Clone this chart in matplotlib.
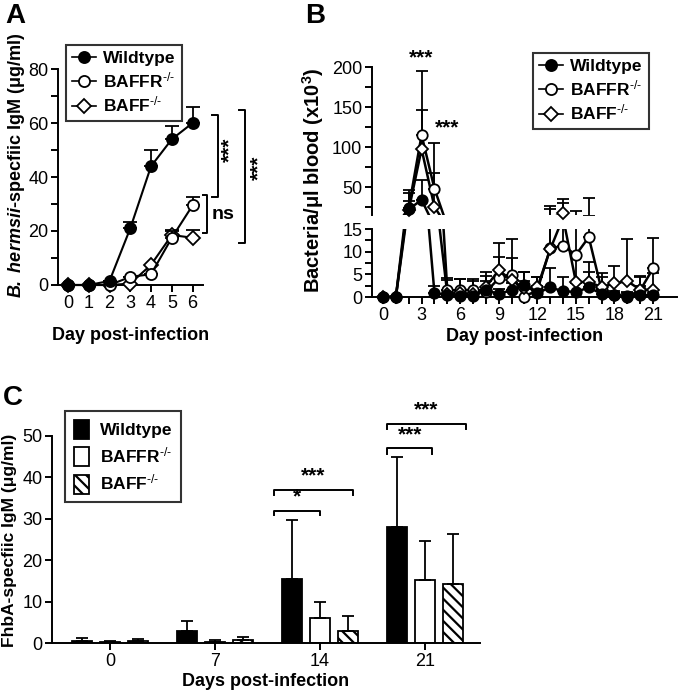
import numpy as np
import matplotlib
matplotlib.use("Agg")
import matplotlib.pyplot as plt
from matplotlib.lines import Line2D
from matplotlib.patches import Patch

plt.rcParams["font.family"] = ["Liberation Sans", "DejaVu Sans"]
plt.rcParams["mathtext.fontset"] = "custom"
plt.rcParams["mathtext.rm"] = "Liberation Sans"
plt.rcParams["mathtext.it"] = "Liberation Sans:italic"
plt.rcParams["mathtext.bf"] = "Liberation Sans:bold"
plt.rcParams["mathtext.bfit"] = "Liberation Sans:italic:bold"
plt.rcParams["hatch.linewidth"] = 1.6
plt.rcParams["axes.linewidth"] = 1.4

# ---- panel A: B. hermsii-specific IgM ----
days_a = [0, 1, 2, 3, 4, 5, 6]
wt_a = [0, 0, 1.5, 21, 44, 54, 60]
wt_a_err = [0, 0, 0, 2.5, 6, 5, 6]
baffr_a = [0, 0, 0, 3, 4, 17.5, 29.5]
baffr_a_err = [0, 0, 0, 0, 0, 2.5, 3]
baff_a = [0, 0, 0, 0.5, 7.5, 18.5, 17.5]
baff_a_err = [0, 0, 0, 0, 0, 2, 3]

# ---- panel B: bacteremia (x10^3 / ul) ----
days_b = list(range(22))
wt_b = [0, 0, 22, 34, 0.9, 0.4, 0.3, 0.3, 1.5, 0.7, 1.5, 2.6, 0.9, 2.1, 1.3, 1.1,
        2.1, 0.7, 0.4, 0.3, 0.4, 0.4]
wt_b_err = [0, 0, 10, 25, 1.5, 0, 0, 0, 2, 1, 1.5, 3, 1.5, 4.2, 3.1, 2, 3.5, 1,
            0.5, 0.5, 2, 0.5]
baffr_b = [0, 0, 23.8, 115, 48, 1.5, 1.5, 1.6, 1.1, 4.1, 4.8, 0.1, 1.5, 10.7,
           11.3, 9.3, 13.2, 1.5, 0.4, 0.1, 1.5, 6.3]
baffr_b_err = [0, 0, 23, 80, 57, 2.6, 2.4, 2.3, 3.5, 4.8, 7.9, 3.5, 2.9, 15, 19,
               11, 23, 3, 1, 1, 3, 6.7]
baff_b = [0, 0, 20.8, 97.5, 25, 0.7, 0.9, 0.6, 2.2, 5.9, 3.7, 1.9, 2.1, 10.5,
          17.5, 3.3, 3.3, 2.2, 3.0, 3.5, 1.6, 1.6]
baff_b_err = [0, 0, 21.7, 48.5, 42, 3, 3, 3, 3.4, 6, 4.8, 3.7, 2.3, 11.5, 18, 6,
              4.5, 3, 3.9, 9.2, 3, 3.6]

# ---- panel C: FhbA-specific IgM ----
groups_c = ["0", "7", "14", "21"]
wt_c = [0.5, 3.0, 15.4, 28.0]
wt_c_err = [0.6, 2.2, 14.4, 17.0]
baffr_c = [0.2, 0.3, 6.0, 15.2]
baffr_c_err = [0.2, 0.4, 4.0, 9.4]
baff_c = [0.5, 0.8, 3.0, 14.2]
baff_c_err = [0.4, 0.7, 3.6, 12.2]

labels = ["Wildtype", r"BAFFR$^{\text{-/-}}$", r"BAFF$^{\text{-/-}}$"]
styles = [dict(marker="o", mfc="black"),
          dict(marker="o", mfc="white"),
          dict(marker="D", mfc="white")]

W, H = 680, 692
fig = plt.figure(figsize=(6.8, 6.92), dpi=100)


def box(l, r, b, t):
    return [l / W, 1 - b / H, (r - l) / W, (b - t) / H]


def style_ax(ax):
    for s in ("top", "right"):
        ax.spines[s].set_visible(False)
    ax.tick_params(which="both", direction="out", width=1.4, labelsize=13, pad=2)
    ax.tick_params(which="major", length=5)
    ax.tick_params(which="minor", length=5)


# ================= A =================
axA = fig.add_axes(box(58, 203, 285, 69))
style_ax(axA)
series_a = [(wt_a, wt_a_err), (baffr_a, baffr_a_err), (baff_a, baff_a_err)]
for i, ((y, e), st) in enumerate(zip(series_a, styles)):
    z = 5 - i
    axA.errorbar(days_a, y, yerr=[np.zeros(len(e)), e], fmt="none", ecolor="black",
                 elinewidth=1.3, capsize=5, capthick=1.3, zorder=z)
    ms = 8 if st["marker"] == "o" else 7
    axA.plot(days_a, y, color="black", lw=1.5, marker=st["marker"], mfc=st["mfc"],
             mec="black", mew=1.3, ms=ms, clip_on=False, zorder=z + 0.5)
axA.set_xlim(-0.48, 6.5)
axA.set_ylim(0, 80)
axA.set_xticks(days_a)
axA.set_yticks([0, 20, 40, 60, 80])
axA.set_yticks([10, 30, 50, 70], minor=True)
axA.text(0.5, -0.236, "Day post-infection", transform=axA.transAxes, ha="center",
         va="center", fontsize=13, fontweight="bold")
fig.text(17 / W, 1 - 165 / H, r"$\mathbfit{B.\ hermsii}$-specfiic IgM (μg/ml)",
         rotation=90, ha="center", va="center", fontsize=13, fontweight="bold")

hA = [Line2D([], [], color="black", lw=1.2, marker=st["marker"], mfc=st["mfc"],
             mec="black", mew=1.3, ms=8 if st["marker"] == "o" else 7) for st in styles]
legA = axA.legend(hA, labels, loc="upper left", bbox_to_anchor=(0.055, 1.111),
                  borderaxespad=0, frameon=True, fancybox=False, edgecolor="black",
                  handlelength=1.4, handletextpad=0.4, labelspacing=0.25,
                  borderpad=0.35, prop=dict(size=12.5, weight="bold"))
legA.get_frame().set_linewidth(1.5)


def vbracket(ax, x, y0, y1, arm):
    ax.plot([x - arm, x, x, x - arm], [y0, y0, y1, y1], color="black", lw=1.4,
            clip_on=False)


vbracket(axA, 7.2, 63, 32.7, 0.28)
axA.text(7.8, 50, "***", rotation=90, ha="center", va="center", fontsize=15,
         fontweight="bold")
vbracket(axA, 6.68, 33.3, 19.1, 0.2)
axA.text(7.45, 26, "ns", ha="center", va="center", fontsize=14, fontweight="bold")
vbracket(axA, 8.5, 64.8, 15.4, 0.25)
axA.text(9.2, 43.5, "***", rotation=90, ha="center", va="center", fontsize=15,
         fontweight="bold")

# ================= B (broken axis) =================
axBt = fig.add_axes(box(372, 677, 215, 67))
axBb = fig.add_axes(box(372, 677, 297, 229))
for ax in (axBt, axBb):
    style_ax(ax)
axBt.spines["bottom"].set_visible(False)
axBt.tick_params(axis="x", which="both", bottom=False, labelbottom=False)

series_b = [(wt_b, wt_b_err), (baffr_b, baffr_b_err), (baff_b, baff_b_err)]
zorders = [6, 4, 5]
for (y, e), st, z in zip(series_b, styles, zorders):
    y = np.array(y, dtype=float)
    e = np.array(e, dtype=float)
    x = np.array(days_b)
    ms = 7.5 if st["marker"] == "o" else 6.5
    for ax in (axBt, axBb):
        ax.errorbar(x, y, yerr=[np.zeros_like(e), e], fmt="none", ecolor="black",
                    elinewidth=1.3, capsize=4.5, capthick=1.3, zorder=z - 3)
        ax.plot(x, y, color="black", lw=1.8, zorder=z - 2)
    low = y <= 15
    axBb.plot(x[low], y[low], ls="none", marker=st["marker"], mfc=st["mfc"],
              mec="black", mew=1.3, ms=ms, clip_on=False, zorder=z)
    axBt.plot(x[~low], y[~low], ls="none", marker=st["marker"], mfc=st["mfc"],
              mec="black", mew=1.3, ms=ms, clip_on=False, zorder=z)

for ax in (axBt, axBb):
    ax.set_xlim(-0.855, 22.86)
axBt.set_ylim(15, 200)
axBt.set_yticks([50, 100, 150, 200])
axBt.set_yticks([25, 75, 125, 175], minor=True)
axBb.set_ylim(0, 15)
axBb.set_yticks([0, 5, 10, 15])
axBb.set_yticks([2.5, 7.5, 12.5], minor=True)
axBb.set_xticks(range(0, 22, 3))
axBb.set_xticks(days_b, minor=True)
axBb.text(0.5, -0.574, "Day post-infection", transform=axBb.transAxes,
          ha="center", va="center", fontsize=13, fontweight="bold")
fig.text(313 / W, 1 - 180 / H, "Bacteria/μl blood (x10$^{\\mathbf{3}}$)",
         rotation=90, ha="center", va="center", fontsize=14.5, fontweight="bold")
axBt.text(3, 211, "***", ha="center", va="center", fontsize=15,
          fontweight="bold", clip_on=False)
axBt.text(5, 124, "***", ha="center", va="center", fontsize=15, fontweight="bold")

hB = [Line2D([], [], color="black", lw=1.2, marker=st["marker"], mfc=st["mfc"],
             mec="black", mew=1.3, ms=8 if st["marker"] == "o" else 7) for st in styles]
legB = axBt.legend(hB, labels, loc="upper left", bbox_to_anchor=(0.528, 1.095),
                   borderaxespad=0, frameon=True, fancybox=False, edgecolor="black",
                   handlelength=1.4, handletextpad=0.4, labelspacing=0.25,
                   borderpad=0.35, prop=dict(size=12.5, weight="bold"))
legB.get_frame().set_linewidth(1.5)

# ================= C =================
axC = fig.add_axes(box(52, 480, 643, 436))
style_ax(axC)
xc = np.arange(len(groups_c))
bw, off = 0.19, 0.267
axC.bar(xc - off, wt_c, bw, color="black", edgecolor="black", lw=1.3,
        yerr=[np.zeros(4), wt_c_err], capsize=4.5,
        error_kw=dict(elinewidth=1.3, capthick=1.3), label="Wildtype")
axC.bar(xc, baffr_c, bw, color="white", edgecolor="black", lw=1.3,
        yerr=[np.zeros(4), baffr_c_err], capsize=4.5,
        error_kw=dict(elinewidth=1.3, capthick=1.3), label=labels[1])
axC.bar(xc + off, baff_c, bw, color="white", edgecolor="black", lw=1.3,
        hatch="\\\\\\", yerr=[np.zeros(4), baff_c_err], capsize=4.5,
        error_kw=dict(elinewidth=1.3, capthick=1.3), label=labels[2])
axC.set_xlim(-0.552, 3.524)
axC.set_ylim(0, 50)
axC.set_yticks([0, 10, 20, 30, 40, 50])
axC.set_xticks(xc)
axC.set_xticklabels(groups_c)
axC.text(0.5, -0.188, "Days post-infection", transform=axC.transAxes,
         ha="center", va="center", fontsize=13, fontweight="bold")
fig.text(10 / W, 1 - 540 / H, "FhbA-specfiic IgM (μg/ml)", rotation=90,
         ha="center", va="center", fontsize=12.5, fontweight="bold")

hC = [Patch(facecolor="black", edgecolor="black", lw=1.3),
      Patch(facecolor="white", edgecolor="black", lw=1.3),
      Patch(facecolor="white", edgecolor="black", lw=1.3, hatch="\\\\\\")]
legC = axC.legend(hC, labels, loc="upper left", bbox_to_anchor=(0.03, 1.121),
                  borderaxespad=0, frameon=True, fancybox=False, edgecolor="black",
                  handlelength=0.9, handleheight=1.3, handletextpad=0.6,
                  labelspacing=0.4, borderpad=0.5, prop=dict(size=12.5, weight="bold"))
legC.get_frame().set_linewidth(1.5)


def hbracket(ax, x0, x1, y, drop, text):
    ax.plot([x0, x0, x1, x1], [y - drop, y, y, y - drop], color="black", lw=1.4,
            clip_on=False)
    ax.text((x0 + x1) / 2, y + 1.0, text, ha="center", va="bottom", fontsize=15,
            fontweight="bold", clip_on=False)


hbracket(axC, 2 - 0.44, 2.0, 32.0, 1.2, "*")
hbracket(axC, 2 - 0.44, 2.31, 37.0, 1.2, "***")
hbracket(axC, 3 - 0.36, 3.07, 47.0, 1.3, "***")
hbracket(axC, 3 - 0.36, 3.39, 53.0, 1.3, "***")

# panel letters
fig.text(5 / W, 1 - 3 / H, "A", ha="left", va="top", fontsize=20, fontweight="bold")
fig.text(305 / W, 1 - 3 / H, "B", ha="left", va="top", fontsize=20, fontweight="bold")
fig.text(3 / W, 1 - 385 / H, "C", ha="left", va="top", fontsize=20, fontweight="bold")

fig.savefig("out.png", dpi=100)
